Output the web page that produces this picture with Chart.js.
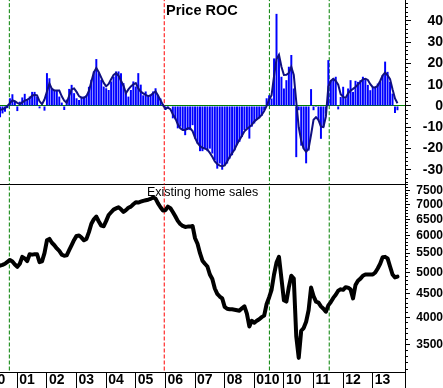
<!DOCTYPE html>
<html><head><meta charset="utf-8">
<script src="https://cdn.jsdelivr.net/npm/chart.js@4.4.0/dist/chart.umd.min.js"></script>
<style>
html,body{margin:0;padding:0;background:#fff;width:443px;height:388px;overflow:hidden;}
#wrap{position:relative;width:443px;height:388px;}
canvas{position:absolute;left:0;}
#c1{top:0;}
#c2{top:184px;}
.t{position:absolute;font-family:"Liberation Sans",Arial,sans-serif;color:#000;line-height:1;white-space:nowrap;}
</style></head><body>
<div id="wrap">
<canvas id="c1" width="443" height="185"></canvas>
<canvas id="c2" width="443" height="204"></canvas>
<div class="t" style="left:166px;top:3.4px;font-size:14.5px;font-weight:bold">Price ROC</div>
<div class="t" style="left:147px;top:186.4px;font-size:12.5px">Existing home sales</div>
</div>
<script>
// ---- data (monthly, starting June 2000) ----
const startYear = 2000;
const startMonth = 6;

const rocBars = [
 -5.3,-3.5,-2.7,-1,3.6,5.5,2,-2.4,2,4,5.7,3.1,4.4,6.6,6.6,4.4,-1.1,-0.3,-2.2,15.4,
 13,8.3,7.2,7.5,4.4,1.6,-1.9,3,8,9.9,6,3.6,2.8,4.4,4.4,5,9,12.3,16.2,22,
 15.4,12.3,9.1,8.3,7.5,11.5,13.8,16.2,16.2,15.4,10.7,6.8,4.4,7.5,11.5,9.1,15.4,10,5,6.8,
 4.2,5.2,6.8,8.3,5.2,3.5,-0.3,-1.9,-1.1,-0.3,-5.8,-6.3,-10.5,-9.7,-11.3,-13.7,-11.3,-11.3,-9,-15.3,
 -17.6,-21.2,-21.2,-20,-21.2,-20,-22.3,-25.5,-29.4,-27,-29.9,-27.8,-27,-24.7,-23.1,-20.8,-18.4,-16.8,-14.5,-11.3,
 -10.5,-15.3,-9.7,-8.2,-6.6,-5.8,-4.6,-1.9,3.6,5,3.5,22.3,43.2,23,13.7,8.2,12.1,18.4,23.9,8.2,
 -24,-2,-18.6,-20,-26.9,-20.9,7.9,-2,-0.5,-6.8,-15.4,-9.9,-3.6,21.5,12.1,12.9,13.7,-1.6,4.2,9,
 3.5,8.2,12.1,6.6,11.8,11.3,12.1,13.7,12.9,9.9,7.4,9,9,10.5,11.3,14.5,20.8,16,11.3,5.8,
 -3.3,-2
];

const rocSmooth = [
 -1.9,-1.5,-1.1,0,1.3,2.6,2.2,1.5,0.9,1.7,2.5,3,3.6,4.8,5.2,5,2.2,0.8,3,6.8,
 10.5,8,7.3,7.2,7.2,4.5,2.5,1.5,4.8,7.8,8.2,6.6,4.6,3.8,3.8,4.6,7,11.5,15.8,17.8,
 15.8,13.3,10.8,9.2,10.3,12.5,14.6,15.4,14.2,11.8,9.5,6,7.8,9.2,10.1,10.7,8.2,6.7,5.9,5.2,
 4.6,5,6,6.8,4.9,2.7,0.5,-1.3,-0.8,-1.5,-3.9,-5.7,-8.6,-10.5,-11.3,-11.3,-10.5,-10.5,-11.8,-15,
 -17.3,-18.8,-19.6,-20,-20.5,-22,-23.8,-26,-27.2,-28,-28.3,-27.9,-26,-23.9,-22.1,-20.4,-17.9,-15.9,-14,-11.9,
 -10.8,-9.9,-8.9,-7.3,-6.3,-5.4,-4.2,-2.4,0,2.9,5.1,14,22,24,18.4,14.5,14.6,15.5,18.3,14.5,
 2,-10,-16.2,-20,-21.5,-20,-13.5,-6.5,-5.3,-6.5,-9.7,-9.9,-5,9,11.8,12.7,11.7,10,5.5,4.2,
 3.8,5.9,7.2,8,8.9,10.1,11.3,12.5,12.7,12.2,10.2,8.8,8.7,9.5,11.7,14.3,15.7,14.4,12.6,7.8,
 3.5,1.3
];

const homeSales = [
 5170,5190,5220,5270,5318,5280,5200,5140,5220,5400,5360,5290,5470,5460,5470,5470,5260,5280,5500,5860,
 5900,5790,5720,5630,5560,5460,5430,5440,5580,5720,5870,5990,6000,5940,5860,5900,6100,6360,6500,6590,
 6430,6300,6280,6450,6640,6730,6820,6860,6900,6830,6740,6800,6880,6920,7000,7070,7060,7090,7120,7140,
 7160,7190,7240,7200,7030,6900,6790,6800,6920,6870,6740,6600,6450,6350,6290,6260,6270,6270,6290,5920,
 5760,5500,5300,5220,5150,4950,4840,4620,4500,4440,4400,4220,4180,4170,4170,4160,4150,4140,4190,4230,
 4080,3830,3940,3900,3940,3970,4010,4040,4280,4420,4590,4950,5250,5400,4850,4360,4330,4650,4920,4850,
 3650,3280,3750,3800,3920,4150,4640,4450,4330,4310,4230,4180,4120,4250,4320,4410,4480,4570,4600,4590,
 4650,4640,4600,4400,4700,4800,4850,4920,4950,4950,4950,4950,5000,5100,5220,5390,5400,5360,5150,4950,
 4880,4900
];

const xTickYears = [2000,2001,2002,2003,2004,2005,2006,2007,2008,2009,2010,2011,2012,2013];
const xTickLabels = ["00","01","02","03","04","05","06","07","08","010","10","11","12","13"];
const rocTicks = [40,30,20,10,0,-10,-20,-30];
const salesTicks = [7500,7000,6500,6000,5500,5000,4500,4000,3500];
const eventDates = [2000.73, 2005.96, 2009.51, 2011.53];
const eventColors = ['#008000','#ff0000','#008000','#008000'];

const xMin = 2000.415, xMax = 2014.088;
const rocMin = -36.6, rocMax = 49.7;
const salesMin = 3059, salesMax = 7738;

// ---- build ----
const monthX = i => startYear + (startMonth - 1 + i) / 12;
const pts = arr => arr.map((v, i) => ({x: monthX(i), y: v}));
const FONT = '"Liberation Sans", Arial, sans-serif';

function eventSets(lo, hi) {
  return eventDates.map((d, k) => ({
    type: 'line', data: [{x: d, y: lo}, {x: d, y: hi}],
    borderColor: eventColors[k], borderWidth: 1, borderDash: [4, 2],
    pointRadius: 0, fill: false, order: 5
  }));
}

const rocMinor = [];
for (let v = -36; v <= 48; v += 2) rocMinor.push(v);
const salesMinor = [];
for (let v = 3100; v <= 7700; v += 100) salesMinor.push(v);

function xScale(showLabels) {
  return {
    type: 'linear', min: xMin, max: xMax, offset: false,
    afterBuildTicks: s => {
      s.ticks = xTickYears.concat([xMax]).map(v => ({value: v}));
    },
    afterFit: s => {
      s.height = showLabels ? 16 : 1;
      s.paddingLeft = 0; s.paddingRight = 0;
    },
    grid: {display: true, offset: false, drawOnChartArea: false, drawTicks: showLabels,
           tickLength: showLabels ? 16 : 0, color: '#000', tickColor: '#000'},
    border: {display: true, color: '#000', width: 1},
    ticks: {
      display: showLabels, autoSkip: false, maxRotation: 0, minRotation: 0,
      align: 'start', labelOffset: 2, padding: -16,
      color: '#000', font: {family: FONT, size: 14, weight: 'bold'},
      callback: (v, i) => (i < xTickLabels.length ? xTickLabels[i] : '')
    }
  };
}

const common = {
  responsive: false, animation: false, devicePixelRatio: 1,
  layout: {padding: 0},
  plugins: {legend: {display: false}, tooltip: {enabled: false}},
  events: []
};

new Chart(document.getElementById('c1'), {
  data: {
    datasets: [
      {type: 'line', data: pts(rocSmooth), borderColor: '#101080', borderWidth: 2, pointRadius: 0, tension: 0, order: 1},
      {type: 'bar', data: pts(rocBars), backgroundColor: '#0000ff', borderWidth: 0, barPercentage: 0.8, categoryPercentage: 1, order: 2},
      ...eventSets(-100, 100)
    ]
  },
  options: Object.assign({}, common, {
    scales: {
      x: xScale(false),
      y: {
        type: 'linear', position: 'right', weight: 1, min: rocMin, max: rocMax,
        afterBuildTicks: s => { s.ticks = rocTicks.map(v => ({value: v})); },
        afterFit: s => { s.width = 38; s.paddingTop = 0; s.paddingBottom = 0; },
        grid: {drawOnChartArea: true, drawTicks: true, tickLength: 6,
               color: c => (c.tick && c.tick.value === 0 ? '#008000' : 'rgba(0,0,0,0)'),
               tickColor: '#000', lineWidth: 1},
        border: {display: true, color: '#000'},
        ticks: {crossAlign: 'far', padding: 9, color: '#000', font: {family: FONT, size: 14, weight: 'bold'},
                callback: v => String(v)}
      },
      yMinor: {
        type: 'linear', position: 'right', weight: 0, min: rocMin, max: rocMax,
        afterBuildTicks: s => { s.ticks = rocMinor.map(v => ({value: v})); },
        afterFit: s => { s.width = 0; s.paddingTop = 0; s.paddingBottom = 0; },
        grid: {drawOnChartArea: false, drawTicks: true, tickLength: 3, tickColor: '#000'},
        border: {display: false},
        ticks: {display: false}
      }
    }
  })
});

new Chart(document.getElementById('c2'), {
  data: {
    datasets: [
      {type: 'line', data: pts(homeSales), borderColor: '#000', borderWidth: 4, pointRadius: 0, tension: 0,
       borderJoinStyle: 'round', borderCapStyle: 'round', order: 1},
      ...eventSets(1000, 20000)
    ]
  },
  options: Object.assign({}, common, {
    scales: {
      x: xScale(true),
      y: {
        type: 'logarithmic', position: 'right', weight: 1, min: salesMin, max: salesMax,
        afterBuildTicks: s => { s.ticks = salesTicks.map(v => ({value: v})); },
        afterFit: s => { s.width = 38; s.paddingTop = 0; s.paddingBottom = 0; },
        grid: {drawOnChartArea: false, drawTicks: true, tickLength: 5, tickColor: '#000'},
        border: {display: true, color: '#000'},
        ticks: {crossAlign: 'far', padding: 4, color: '#000', font: {family: FONT, size: 12, weight: 'bold'},
                callback: v => String(v)}
      },
      yMinor: {
        type: 'logarithmic', position: 'right', weight: 0, min: salesMin, max: salesMax,
        afterBuildTicks: s => { s.ticks = salesMinor.map(v => ({value: v})); },
        afterFit: s => { s.width = 0; s.paddingTop = 0; s.paddingBottom = 0; },
        grid: {drawOnChartArea: false, drawTicks: true, tickLength: 3, tickColor: '#000'},
        border: {display: false},
        ticks: {display: false}
      }
    }
  })
});
</script>
</body></html>
